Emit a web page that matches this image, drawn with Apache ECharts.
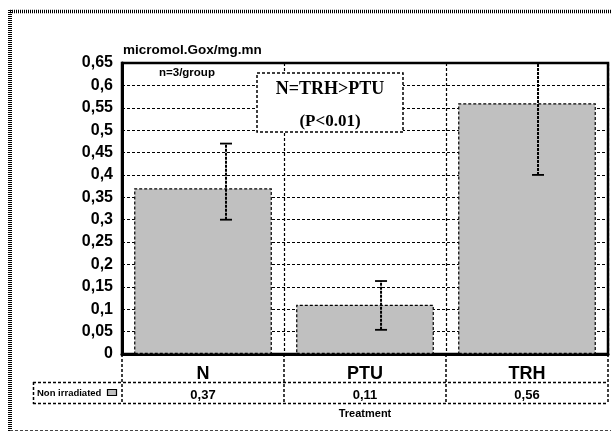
<!DOCTYPE html>
<html><head><meta charset="utf-8">
<script src="https://cdn.jsdelivr.net/npm/echarts@6/dist/echarts.min.js"></script>
<style>html,body{margin:0;padding:0;background:#fff}#c{width:611px;height:432px}</style>
</head><body><div id="c"></div>
<script>
const categories = ['N', 'PTU', 'TRH'];
const values = [0.37, 0.11, 0.56];
const errLow = [0.30, 0.054, 0.40];
const errHigh = [0.47, 0.163, 0.65];
const errShift = [0.142, 0.099, 0.068];
const seriesName = 'Non irradiated';
const yTitle = 'micromol.Gox/mg.mn';
const xTitle = 'Treatment';
const note = 'n=3/group';
const boxLines = ['N=TRH>PTU', '(P<0.01)'];

const fmt = v => String(Math.round(v * 100) / 100).replace('.', ',');
const dash = [3, 2];
const chart = echarts.init(document.getElementById('c'), null, {renderer: 'canvas'});
const option = {
  animation: false,
  backgroundColor: '#fff',
  grid: {left: 122, right: 3, top: 63, bottom: 78, show: true, borderColor: '#000', borderWidth: 2.5, containLabel: false},
  xAxis: [{
    type: 'category', data: categories, position: 'bottom',
    axisLine: {show: true, lineStyle: {color: '#000', width: 3}},
    axisTick: {show: true, interval: 0, length: 49, lineStyle: {color: '#000', width: 1.5, type: dash}},
    axisLabel: {color: '#000', fontFamily: 'Arial, Liberation Sans', fontWeight: 'bold', fontSize: 18, margin: 11},
    splitLine: {show: true, interval: 0, lineStyle: {color: '#000', width: 1.2, type: dash}}
  }, {
    type: 'category', data: values.map(fmt), position: 'bottom',
    axisLine: {show: false}, axisTick: {show: false}, splitLine: {show: false},
    axisLabel: {color: '#000', fontFamily: 'Arial, Liberation Sans', fontWeight: 'bold', fontSize: 13, margin: 35}
  }],
  yAxis: {
    type: 'value', min: 0, max: 0.65, interval: 0.05,
    axisLine: {show: true, lineStyle: {color: '#000', width: 3}},
    axisTick: {show: false},
    axisLabel: {color: '#000', fontFamily: 'Arial, Liberation Sans', fontWeight: 'bold', fontSize: 16, margin: 9, formatter: fmt},
    splitLine: {show: true, lineStyle: {color: '#000', width: 1.2, type: dash}}
  },
  series: [{
    name: seriesName, type: 'bar', data: values, barWidth: '85%', xAxisIndex: 0,
    itemStyle: {color: '#c0c0c0', borderColor: '#000', borderWidth: 1.2, borderType: dash},
    z: 3
  }, {
    type: 'custom', xAxisIndex: 0, z: 5,
    data: categories.map((c, i) => [i, errLow[i], errHigh[i], errShift[i]]),
    renderItem: function (params, api) {
      const i = api.value(0);
      const lo = api.coord([i, api.value(1)]);
      const hi = api.coord([i, api.value(2)]);
      const band = api.size([1, 0])[0];
      const x = lo[0] + api.value(3) * band;
      const st = {stroke: '#000', lineWidth: 1.8};
      return {type: 'group', children: [
        {type: 'line', shape: {x1: x, y1: lo[1], x2: x, y2: hi[1]}, style: {stroke: '#000', lineWidth: 2, lineDash: [3, 1]}},
        {type: 'line', shape: {x1: x - 6, y1: lo[1], x2: x + 6, y2: lo[1]}, style: st},
        {type: 'line', shape: {x1: x - 6, y1: hi[1], x2: x + 6, y2: hi[1]}, style: st}
      ]};
    }
  }],
  graphic: [
    {type: 'line', z: 50, shape: {x1: 10, y1: 11.5, x2: 611, y2: 11.5}, style: {stroke: '#000', lineWidth: 3.5, lineDash: [1, 1]}},
    {type: 'line', z: 50, shape: {x1: 10, y1: 10, x2: 10, y2: 432}, style: {stroke: '#000', lineWidth: 4, lineDash: [1, 1]}},
    {type: 'line', z: 50, shape: {x1: 10, y1: 430.5, x2: 611, y2: 430.5}, style: {stroke: '#444', lineWidth: 1, lineDash: [3, 2]}},
    {type: 'text', z: 50, left: 123, top: 43, style: {text: yTitle, fill: '#000', font: 'bold 13.5px Arial, "Liberation Sans"'}},
    {type: 'text', z: 50, left: 159, top: 67, style: {text: note, fill: '#000', font: 'bold 11.5px Arial, "Liberation Sans"'}},
    {type: 'rect', z: 100, shape: {x: 257, y: 73, width: 146, height: 59}, style: {fill: '#fff', stroke: '#000', lineWidth: 1.5, lineDash: [3, 2]}},
    {type: 'text', z: 101, x: 330, y: 89, style: {text: boxLines[0], fill: '#000', font: 'bold 18px "Times New Roman", "Liberation Serif"', textAlign: 'center', textVerticalAlign: 'middle'}},
    {type: 'text', z: 101, x: 330, y: 122, style: {text: boxLines[1], fill: '#000', font: 'bold 17px "Times New Roman", "Liberation Serif"', textAlign: 'center', textVerticalAlign: 'middle'}},
    {type: 'line', z: 50, shape: {x1: 33, y1: 382.5, x2: 608, y2: 382.5}, style: {stroke: '#000', lineWidth: 1.5, lineDash: dash}},
    {type: 'line', z: 50, shape: {x1: 33, y1: 403.5, x2: 608, y2: 403.5}, style: {stroke: '#000', lineWidth: 1.5, lineDash: dash}},
    {type: 'line', z: 50, shape: {x1: 33.5, y1: 382, x2: 33.5, y2: 404}, style: {stroke: '#000', lineWidth: 1.5, lineDash: dash}},
    {type: 'text', z: 50, x: 37, y: 393, style: {text: seriesName, fill: '#000', font: 'bold 9.5px Arial, "Liberation Sans"', textVerticalAlign: 'middle'}},
    {type: 'rect', z: 50, shape: {x: 107.5, y: 389.5, width: 9, height: 6}, style: {fill: '#c0c0c0', stroke: '#000', lineWidth: 1.2}},
    {type: 'text', z: 50, x: 365, y: 414, style: {text: xTitle, fill: '#000', font: 'bold 11px Arial, "Liberation Sans"', textAlign: 'center', textVerticalAlign: 'middle'}}
  ]
};
chart.setOption(option);
</script></body></html>
